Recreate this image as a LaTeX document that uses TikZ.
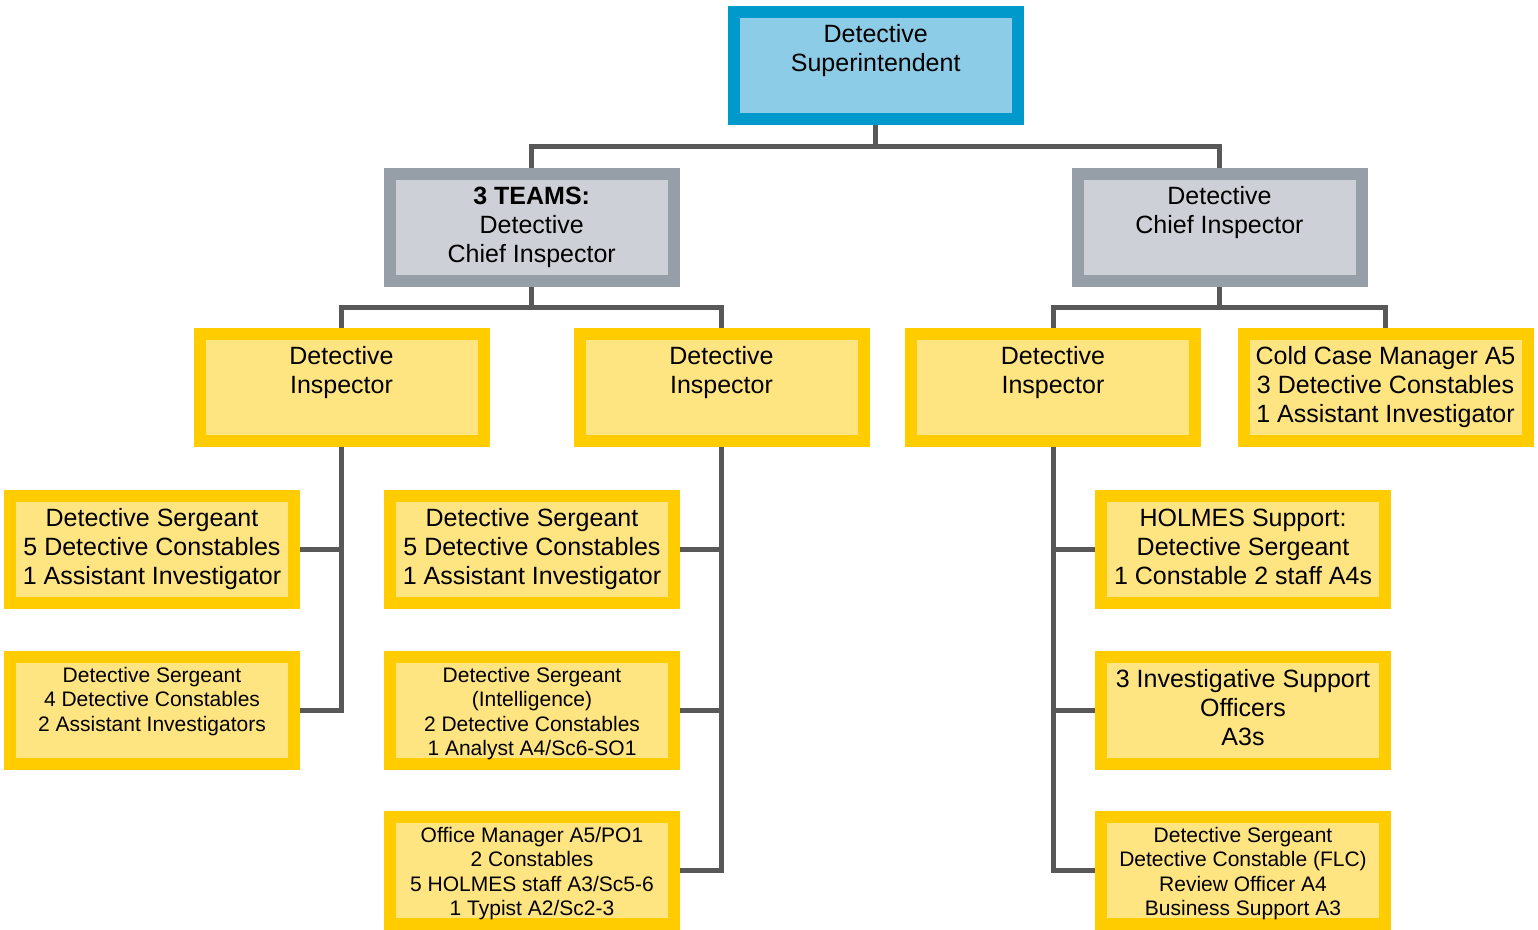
\documentclass[tikz,border=0pt]{standalone}
\usepackage{fontspec}
\setmainfont{Liberation Sans}
\definecolor{bluebd}{RGB}{0,153,204}
\definecolor{bluefl}{RGB}{140,204,230}
\definecolor{graybd}{RGB}{150,158,168}
\definecolor{grayfl}{RGB}{205,209,215}
\definecolor{yelbd}{RGB}{255,204,0}
\definecolor{yelfl}{RGB}{255,229,130}
\definecolor{wire}{RGB}{88,88,88}
\newcommand{\BoxL}[1]{\parbox[c][107pt][t]{284pt}{\centering\fontsize{25}{29}\selectfont\vspace*{11.5pt}\rule{0pt}{19pt}#1}}
\newcommand{\BoxS}[1]{\parbox[c][107pt][t]{284pt}{\centering\fontsize{21}{24.4}\selectfont\vspace*{10pt}\rule{0pt}{16pt}#1}}
\tikzset{
  orgbox/.style={draw, line width=12pt, inner sep=0pt, minimum width=284pt, minimum height=107pt},
  bluebox/.style={orgbox, draw=bluebd, fill=bluefl},
  graybox/.style={orgbox, draw=graybd, fill=grayfl},
  yelbox/.style={orgbox, draw=yelbd, fill=yelfl},
  wired/.style={draw=wire, line width=5pt, line join=miter}
}
\begin{document}
\begin{tikzpicture}[x=1pt,y=-1pt]
\useasboundingbox[fill=white] (0,0) rectangle (1538,929);
% level 0
\node[bluebox] (top) at (875.7,65.5) {\BoxL{Detective\\Superintendent}};
% level 1
\node[graybox] (dcil) at (531.7,227) {\BoxL{\textbf{3 TEAMS:}\\Detective\\Chief Inspector}};
\node[graybox] (dcir) at (1219.5,227) {\BoxL{Detective\\Chief Inspector}};
% level 2
\node[yelbox] (dil) at (341.5,387.5) {\BoxL{Detective\\Inspector}};
\node[yelbox] (dim) at (721.5,387.5) {\BoxL{Detective\\Inspector}};
\node[yelbox] (dir) at (1053,387.5) {\BoxL{Detective\\Inspector}};
\node[yelbox] (cold) at (1385.5,387.5) {\BoxL{Cold Case Manager A5\\3 Detective Constables\\1 Assistant Investigator}};
% left column
\node[yelbox] (ds1) at (152,549) {\BoxL{Detective Sergeant\\5 Detective Constables\\1 Assistant Investigator}};
\node[yelbox] (ds2) at (152,710) {\BoxS{Detective Sergeant\\4 Detective Constables\\2 Assistant Investigators}};
% middle column
\node[yelbox] (dsm1) at (532,549) {\BoxL{Detective Sergeant\\5 Detective Constables\\1 Assistant Investigator}};
\node[yelbox] (dsm2) at (532,710) {\BoxS{Detective Sergeant\\(Intelligence)\\2 Detective Constables\\1 Analyst A4/Sc6-SO1}};
\node[yelbox] (om) at (532,870) {\BoxS{Office Manager A5/PO1\\2 Constables\\5 HOLMES staff A3/Sc5-6\\1 Typist A2/Sc2-3}};
% right column
\node[yelbox] (hs) at (1243,549) {\BoxL{HOLMES Support:\\Detective Sergeant\\1 Constable 2 staff A4s}};
\node[yelbox] (iso) at (1243,710) {\BoxL{3 Investigative Support\\Officers\\A3s}};
\node[yelbox] (flc) at (1243,870) {\BoxS{Detective Sergeant\\Detective Constable (FLC)\\Review Officer A4\\Business Support A3}};
% connectors
\coordinate (bus0) at (0,146);
\coordinate (bus1) at (0,307);
\draw[wired] (top.south) -- (top.south |- bus0);
\draw[wired] (dcil.north) -- (dcil.north |- bus0) -- (dcir.north |- bus0) -- (dcir.north);
\draw[wired] (dcil.south) -- (dcil.south |- bus1);
\draw[wired] (dil.north) -- (dil.north |- bus1) -- (dim.north |- bus1) -- (dim.north);
\draw[wired] (dcir.south) -- (dcir.south |- bus1);
\draw[wired] (dir.north) -- (dir.north |- bus1) -- (cold.north |- bus1) -- (cold.north);
\draw[wired] (dil.south) |- (ds2.east);
\draw[wired] (ds1.east) -- (ds1.east -| dil.south);
\draw[wired] (dim.south) |- (om.east);
\draw[wired] (dsm1.east) -- (dsm1.east -| dim.south);
\draw[wired] (dsm2.east) -- (dsm2.east -| dim.south);
\draw[wired] (dir.south) |- (flc.west);
\draw[wired] (hs.west) -- (hs.west -| dir.south);
\draw[wired] (iso.west) -- (iso.west -| dir.south);
\end{tikzpicture}
\end{document}
